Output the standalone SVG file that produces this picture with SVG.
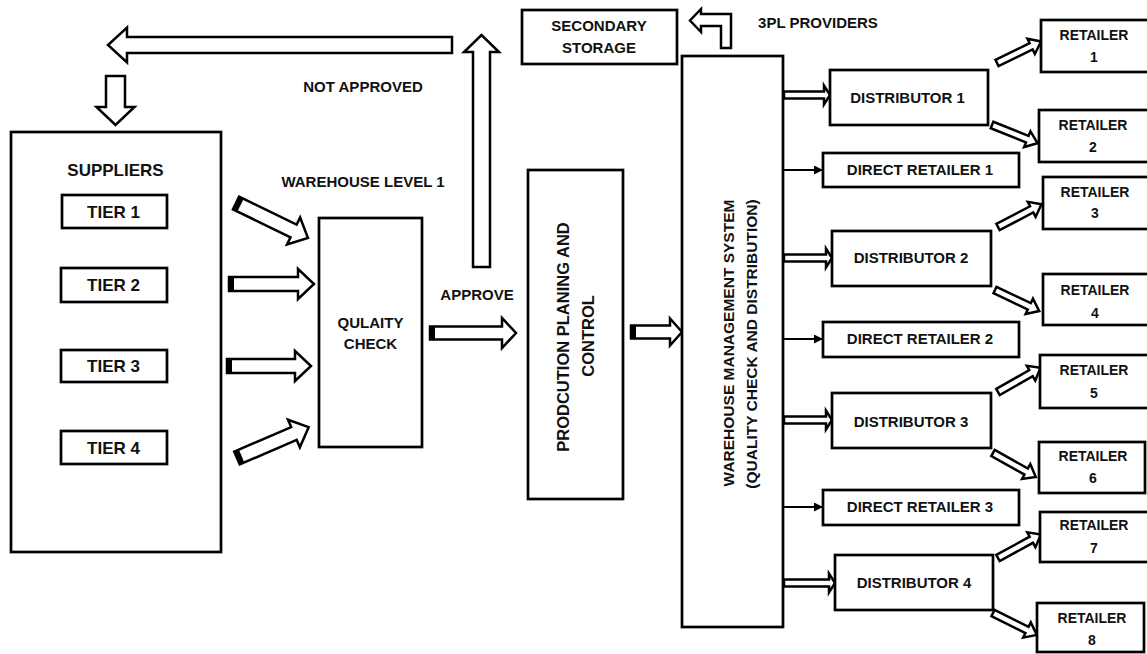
<svg xmlns="http://www.w3.org/2000/svg" width="1147" height="654" viewBox="0 0 1147 654">
<style>
.box{fill:#fff;stroke:#000;stroke-width:2.7}
.ba{fill:#fff;stroke:#000;stroke-width:2.5;stroke-linejoin:miter}
.cap{fill:#000}
.thin{stroke:#000;stroke-width:2;fill:none}
text{font-family:"Liberation Sans",Arial,sans-serif;font-weight:bold;fill:#111;text-anchor:middle}
.t15{font-size:15px}
.t14{font-size:14px}
.t17{font-size:17px}
</style>
<defs>
<marker id="tri" markerUnits="userSpaceOnUse" markerWidth="10" markerHeight="10" refX="9" refY="4.5" orient="auto">
<path d="M0,0 L9,4.5 L0,9 Z" fill="#000"/>
</marker>
<polygon id="dr" points="0,-3.5 38,-3.5 38,-8.5 49,0 38,8.5 38,3.5 0,3.5"/>
</defs>
<rect width="1147" height="654" fill="#fff"/>

<g id="connectors">
<!-- Not approved loop -->
<polygon class="ba" transform="translate(481.5,267) rotate(-90)" points="0,-8.5 215,-8.5 215,-17.5 232,0 215,17.5 215,8.5 0,8.5"/>
<polygon class="ba" transform="translate(452,45) rotate(180)" points="0,-8 325,-8 325,-17.5 344,0 325,17.5 325,8 0,8"/>
<polygon class="ba" transform="translate(115.5,76) rotate(90)" points="0,-9.5 31,-9.5 31,-19 49,0 31,19 31,9.5 0,9.5"/>
<!-- Tiers to QC -->
<g transform="translate(236,203) rotate(25.9)"><polygon class="ba" points="0,-7 64,-7 64,-15 80,0 64,15 64,7 0,7"/><rect class="cap" x="0" y="-7" width="5" height="14"/></g>
<g transform="translate(229,284)"><polygon class="ba" points="0,-7 69,-7 69,-15 85,0 69,15 69,7 0,7"/><rect class="cap" x="0" y="-7" width="5" height="14"/></g>
<g transform="translate(227,366)"><polygon class="ba" points="0,-7 68,-7 68,-15 84,0 68,15 68,7 0,7"/><rect class="cap" x="0" y="-7" width="5" height="14"/></g>
<g transform="translate(237,458) rotate(-23.3)"><polygon class="ba" points="0,-7 62,-7 62,-15 78,0 62,15 62,7 0,7"/><rect class="cap" x="0" y="-7" width="5" height="14"/></g>
<!-- Approve -->
<g transform="translate(430,333)"><polygon class="ba" points="0,-6.5 72,-6.5 72,-15 86,0 72,15 72,6.5 0,6.5"/><rect class="cap" x="0" y="-6.5" width="5" height="13"/></g>
<!-- Production to WMS -->
<g transform="translate(631,332)"><polygon class="ba" points="0,-6.5 39,-6.5 39,-13.5 51,0 39,13.5 39,6.5 0,6.5"/><rect class="cap" x="0" y="-6.5" width="5" height="13"/></g>
<!-- 3PL elbow -->
<path class="ba" d="M731,48 L731,14 L701,14 L701,9 L690,20.5 L701,32 L701,26 L721,26 L721,48 Z"/>
<!-- WMS to distributors -->
<polygon class="ba" transform="translate(784,95)" points="0,-3.5 40,-3.5 40,-9.5 46,0 40,9.5 40,3.5 0,3.5"/>
<polygon class="ba" transform="translate(784,258)" points="0,-3.5 42,-3.5 42,-9.5 48,0 42,9.5 42,3.5 0,3.5"/>
<polygon class="ba" transform="translate(784,420)" points="0,-3.5 42,-3.5 42,-9.5 48,0 42,9.5 42,3.5 0,3.5"/>
<polygon class="ba" transform="translate(784,583)" points="0,-3.5 45,-3.5 45,-9.5 51,0 45,9.5 45,3.5 0,3.5"/>
<!-- WMS to direct retailers -->
<line class="thin" x1="784" y1="170" x2="823" y2="170" marker-end="url(#tri)"/>
<line class="thin" x1="784" y1="339" x2="823" y2="339" marker-end="url(#tri)"/>
<line class="thin" x1="784" y1="507" x2="823" y2="507" marker-end="url(#tri)"/>
<!-- Distributors to retailers -->
<use href="#dr" class="ba" transform="translate(997,63) rotate(-26)"/>
<use href="#dr" class="ba" transform="translate(992,125) rotate(21.8)"/>
<use href="#dr" class="ba" transform="translate(998,227) rotate(-27.6)"/>
<use href="#dr" class="ba" transform="translate(995,290) rotate(25.5)"/>
<use href="#dr" class="ba" transform="translate(998,392) rotate(-29.7)"/>
<use href="#dr" class="ba" transform="translate(993,453) rotate(29.2)"/>
<use href="#dr" class="ba" transform="translate(998,558) rotate(-28.7)"/>
<use href="#dr" class="ba" transform="translate(993,613) rotate(26.6)"/>
</g>

<g id="labels">
<text class="t15" x="363" y="92">NOT APPROVED</text>
<text class="t15" x="363" y="187">WAREHOUSE LEVEL 1</text>
<text class="t15" x="477" y="300">APPROVE</text>
<text class="t15" x="818" y="28">3PL PROVIDERS</text>
</g>

<g id="suppliers">
<rect class="box" x="11" y="132" width="210" height="420"/>
<text class="t17" x="115.5" y="176">SUPPLIERS</text>
</g>
<g id="tier1"><rect class="box" x="62" y="195" width="105" height="33"/><text class="t17" x="113.5" y="217.5">TIER 1</text></g>
<g id="tier2"><rect class="box" x="61" y="268" width="106" height="34"/><text class="t17" x="113.5" y="291">TIER 2</text></g>
<g id="tier3"><rect class="box" x="61" y="350" width="106" height="32"/><text class="t17" x="113.5" y="372">TIER 3</text></g>
<g id="tier4"><rect class="box" x="61" y="431" width="106" height="33"/><text class="t17" x="113.5" y="453.5">TIER 4</text></g>

<g id="quality-check">
<rect class="box" x="319" y="218" width="103" height="229"/>
<text class="t15" x="370.5" y="328">QULAITY</text>
<text class="t15" x="370.5" y="349">CHECK</text>
</g>

<g id="secondary-storage">
<rect class="box" x="522" y="10" width="155" height="54"/>
<text class="t15" x="599" y="31">SECONDARY</text>
<text class="t15" x="599" y="53">STORAGE</text>
</g>

<g id="production">
<rect class="box" x="528" y="170" width="95" height="329"/>
<text font-size="16.5" transform="translate(569,337) rotate(-90)">PRODCUTION  PLANING AND</text>
<text font-size="16.5" transform="translate(594,336) rotate(-90)">CONTROL</text>
</g>

<g id="wms">
<rect class="box" x="682" y="56" width="101" height="571"/>
<text font-size="15.5" transform="translate(733.5,343) rotate(-90)">WAREHOUSE MANAGEMENT SYSTEM</text>
<text font-size="15.5" transform="translate(756.5,344) rotate(-90)">(QUALITY CHECK AND DISTRIBUTION)</text>
</g>

<g id="distributor1"><rect class="box" x="830" y="70" width="158" height="55"/><text class="t15" x="907.5" y="103">DISTRIBUTOR 1</text></g>
<g id="distributor2"><rect class="box" x="832" y="231" width="159" height="55"/><text class="t15" x="911" y="263">DISTRIBUTOR 2</text></g>
<g id="distributor3"><rect class="box" x="832" y="393" width="159" height="55"/><text class="t15" x="911" y="427">DISTRIBUTOR 3</text></g>
<g id="distributor4"><rect class="box" x="835" y="555" width="158" height="55"/><text class="t15" x="914" y="588">DISTRIBUTOR 4</text></g>

<g id="direct1"><rect class="box" x="823" y="153" width="196" height="34"/><text class="t15" x="920" y="175">DIRECT RETAILER 1</text></g>
<g id="direct2"><rect class="box" x="823" y="322" width="196" height="35"/><text class="t15" x="920" y="344">DIRECT RETAILER 2</text></g>
<g id="direct3"><rect class="box" x="823" y="490" width="196" height="35"/><text class="t15" x="920" y="512">DIRECT RETAILER 3</text></g>

<g id="retailer1"><rect class="box" x="1041" y="20" width="112" height="52"/><text class="t14" x="1094" y="40">RETAILER</text><text class="t14" x="1094" y="62">1</text></g>
<g id="retailer2"><rect class="box" x="1039" y="110" width="114" height="52"/><text class="t14" x="1093" y="130">RETAILER</text><text class="t14" x="1093" y="152">2</text></g>
<g id="retailer3"><rect class="box" x="1043" y="177" width="110" height="52"/><text class="t14" x="1095" y="197">RETAILER</text><text class="t14" x="1095" y="218">3</text></g>
<g id="retailer4"><rect class="box" x="1043" y="274" width="110" height="51"/><text class="t14" x="1095" y="295">RETAILER</text><text class="t14" x="1095" y="318">4</text></g>
<g id="retailer5"><rect class="box" x="1040" y="355" width="113" height="53"/><text class="t14" x="1094" y="375">RETAILER</text><text class="t14" x="1094" y="398">5</text></g>
<g id="retailer6"><rect class="box" x="1039" y="442" width="106" height="51"/><text class="t14" x="1093" y="461">RETAILER</text><text class="t14" x="1093" y="483">6</text></g>
<g id="retailer7"><rect class="box" x="1040" y="512" width="113" height="50"/><text class="t14" x="1094" y="530">RETAILER</text><text class="t14" x="1094" y="553">7</text></g>
<g id="retailer8"><rect class="box" x="1037" y="603" width="107" height="49"/><text class="t14" x="1092" y="623">RETAILER</text><text class="t14" x="1092" y="645">8</text></g>
</svg>
